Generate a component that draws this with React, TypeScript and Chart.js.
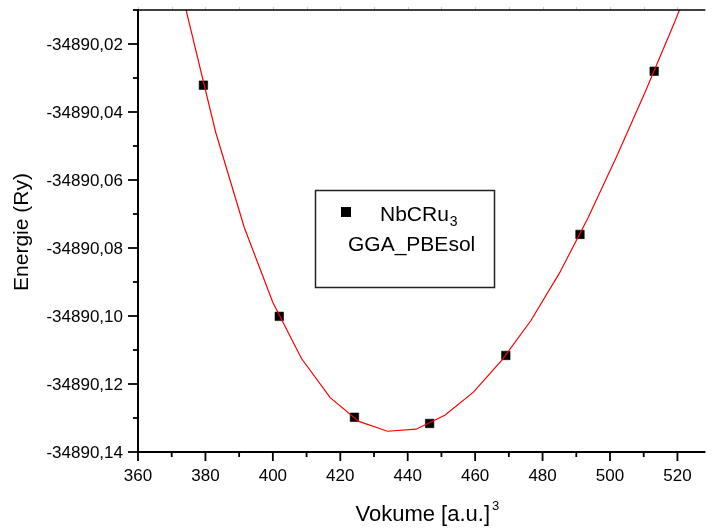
import React, { useEffect, useRef } from "react";
import { Chart, registerables } from "chart.js";

Chart.register(...registerables);

// Data points (volume in a.u.^3, energy in Ry)
const pointVolumes = [379.4, 401.9, 424.2, 446.5, 469.1, 491.1, 513.1];
const pointEnergies = [
  -34890.0321, -34890.1001, -34890.1298, -34890.1316, -34890.1116, -34890.076, -34890.028,
];

// Fitted curve (red polyline)
const fitVolumes = [
  366, 374.5, 383, 391.5, 400, 408.5, 417, 425.5, 434, 442.5, 451, 459.5, 468, 476.5, 485, 493.5,
  502, 510.5, 519, 527.5,
];
const fitEnergies = [
  -34889.97, -34890.011, -34890.0458, -34890.0739, -34890.096, -34890.1125, -34890.124,
  -34890.131, -34890.1339, -34890.1333, -34890.1292, -34890.1224, -34890.1129, -34890.1014,
  -34890.0874, -34890.0711, -34890.053, -34890.034, -34890.014, -34889.9925,
];

// Axes
const xMin = 360;
const xMax = 528.3;
const yMin = -34890.14;
const yMax = -34890.01;

const xMajorTicks = [360, 380, 400, 420, 440, 460, 480, 500, 520];
const xTickLabels = ["360", "380", "400", "420", "440", "460", "480", "500", "520"];
const xMinorTicks = [370, 390, 410, 430, 450, 470, 490, 510];
const xTopTicks = [360, 370, 380, 390, 400, 410, 420, 430, 440, 450, 460, 470, 480, 490, 500, 510, 520];

const yMajorTicks = [
  -34890.14, -34890.12, -34890.1, -34890.08, -34890.06, -34890.04, -34890.02,
];
const yTickLabels = [
  "-34890,14", "-34890,12", "-34890,10", "-34890,08", "-34890,06", "-34890,04", "-34890,02",
];
const yMinorTicks = [
  -34890.13, -34890.11, -34890.09, -34890.07, -34890.05, -34890.03, -34890.01,
];

const xTitle = "Vokume [a.u.]";
const xTitleSup = "3";
const yTitle = "Energie (Ry)";
const legendName = "NbCRu";
const legendSub = "3";
const legendNote = "GGA_PBEsol";

const FONT = '"Liberation Sans", Arial, Helvetica, sans-serif';

const decorPlugin = {
  id: "decor",
  afterDraw(chart: any) {
    const { ctx, chartArea: a, scales } = chart;
    const xs = scales.x;
    const ys = scales.y;
    const seg = (x1: number, y1: number, x2: number, y2: number) => {
      ctx.beginPath();
      ctx.moveTo(x1, y1);
      ctx.lineTo(x2, y2);
      ctx.stroke();
    };
    ctx.save();

    // top faint ticks
    ctx.strokeStyle = "#c8c8c8";
    ctx.lineWidth = 1;
    xTopTicks.forEach((v) => {
      const px = Math.round(xs.getPixelForValue(v)) + 0.5;
      seg(px, a.top - 3, px, a.top);
    });

    // frame lines
    ctx.strokeStyle = "#000";
    ctx.lineWidth = 1.5;
    seg(a.left, a.top, a.right, a.top);
    ctx.lineWidth = 2;
    seg(a.left, a.top - 1, a.left, a.bottom + 1);
    seg(a.left - 1, a.bottom, a.right, a.bottom);

    // y ticks
    ctx.lineWidth = 1.8;
    yMajorTicks.forEach((v) => {
      const py = ys.getPixelForValue(v);
      seg(a.left - 10, py, a.left, py);
    });
    yMinorTicks.forEach((v) => {
      const py = ys.getPixelForValue(v);
      seg(a.left - 5, py, a.left, py);
    });
    // x ticks
    xMajorTicks.forEach((v) => {
      const px = xs.getPixelForValue(v);
      seg(px, a.bottom, px, a.bottom + 9);
    });
    xMinorTicks.forEach((v) => {
      const px = xs.getPixelForValue(v);
      seg(px, a.bottom, px, a.bottom + 5);
    });

    // tick labels
    ctx.fillStyle = "#000";
    ctx.font = `17px ${FONT}`;
    ctx.textBaseline = "alphabetic";
    ctx.textAlign = "right";
    yMajorTicks.forEach((v, i) => {
      const py = ys.getPixelForValue(v);
      ctx.fillText(yTickLabels[i], a.left - 15, py + 6);
    });
    ctx.textAlign = "center";
    xMajorTicks.forEach((v, i) => {
      const px = xs.getPixelForValue(v);
      ctx.fillText(xTickLabels[i], px, a.bottom + 29);
    });

    // x title
    ctx.font = `22px ${FONT}`;
    ctx.textAlign = "left";
    const w = ctx.measureText(xTitle).width;
    const xEnd = 490;
    ctx.fillText(xTitle, xEnd - w, 521);
    ctx.font = `13px ${FONT}`;
    ctx.fillText(xTitleSup, xEnd + 2, 510);

    // y title
    ctx.save();
    ctx.translate(27.5, 232);
    ctx.rotate(-Math.PI / 2);
    ctx.font = `21px ${FONT}`;
    ctx.textAlign = "center";
    ctx.fillText(yTitle, 0, 0);
    ctx.restore();

    // legend box
    ctx.strokeStyle = "#222";
    ctx.lineWidth = 1.5;
    ctx.strokeRect(315.5, 190.5, 179, 97);
    ctx.fillStyle = "#000";
    ctx.fillRect(341, 207, 10, 10);
    ctx.font = `21px ${FONT}`;
    ctx.textAlign = "left";
    ctx.fillText(legendName, 380, 220.5);
    const wn = ctx.measureText(legendName).width;
    ctx.font = `14px ${FONT}`;
    ctx.fillText(legendSub, 380 + wn + 1, 225.5);
    ctx.font = `21px ${FONT}`;
    ctx.fillText(legendNote, 348, 251);

    ctx.restore();
  },
};

export default function App() {
  const canvasRef = useRef<HTMLCanvasElement | null>(null);

  useEffect(() => {
    const canvas = canvasRef.current;
    if (!canvas) return;
    const chart = new Chart(canvas, {
      type: "scatter",
      data: {
        datasets: [
          {
            label: "fit",
            data: fitVolumes.map((v, i) => ({ x: v, y: fitEnergies[i] })),
            showLine: true,
            borderColor: "#ff0000",
            borderWidth: 1.2,
            pointRadius: 0,
            tension: 0,
            order: 0,
          } as any,
          {
            label: "NbCRu3",
            data: pointVolumes.map((v, i) => ({ x: v, y: pointEnergies[i] })),
            showLine: false,
            pointStyle: "rect",
            pointRadius: 6,
            backgroundColor: "#000",
            borderColor: "#000",
            borderWidth: 0.6,
            order: 1,
          } as any,
        ],
      },
      options: {
        animation: false,
        responsive: false,
        devicePixelRatio: 1,
        events: [],
        layout: { padding: { left: 138, top: 10, right: 0, bottom: 80 } },
        plugins: {
          legend: { display: false },
          tooltip: { enabled: false },
          title: { display: false },
        },
        scales: {
          x: { type: "linear", min: xMin, max: xMax, display: false },
          y: { type: "linear", min: yMin, max: yMax, display: false },
        },
      },
      plugins: [decorPlugin],
    });
    return () => chart.destroy();
  }, []);

  return (
    <div style={{ position: "fixed", left: 0, top: 0, width: 712, height: 532, background: "#fff" }}>
      <canvas ref={canvasRef} width={712} height={532} style={{ display: "block" }} />
    </div>
  );
}
